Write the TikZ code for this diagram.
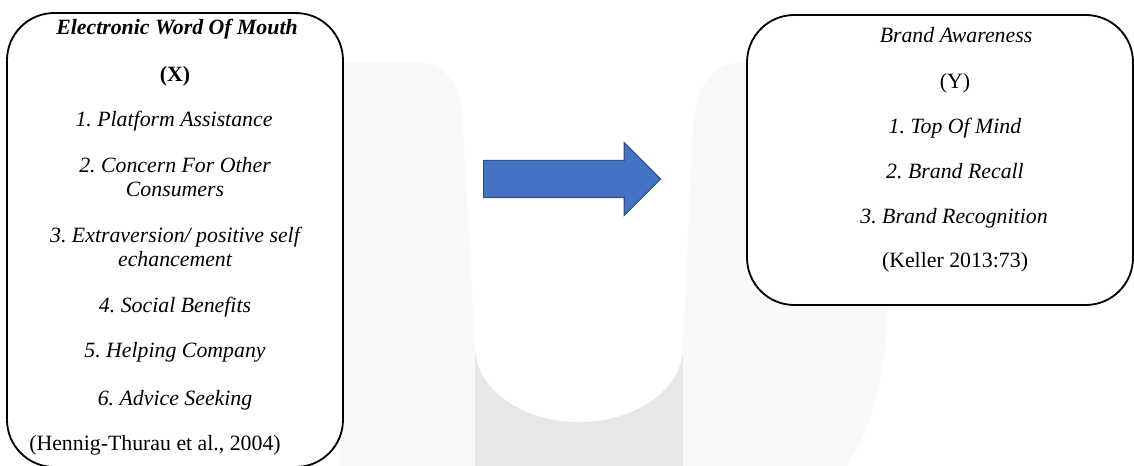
\documentclass[tikz,border=0pt]{standalone}
\usepackage{fontspec}
\setmainfont{Liberation Serif}
\usetikzlibrary{shapes.arrows}
\definecolor{wmlight}{HTML}{F9F9F9}
\definecolor{wmdark}{HTML}{E7E7EA}
\definecolor{arrowfill}{HTML}{4472C4}
\definecolor{arrowline}{HTML}{2F528F}
\newcommand\boxfont{\fontsize{12pt}{13.2pt}\selectfont\frenchspacing}

\begin{document}
\begin{tikzpicture}[
    x=0.55pt, y=-0.55pt,
    every node/.style={font=\boxfont, inner sep=0pt},
    varbox/.style={rectangle, draw=black, fill=white, line width=1pt,
        rounded corners=26pt},
    plain/.style={anchor=base, font=\boxfont},
    item/.style={anchor=base, font=\boxfont\itshape},
    bigarrow/.style={single arrow, draw=arrowline, fill=arrowfill,
        line width=0.6pt, inner xsep=0pt, inner ysep=9.9pt,
        minimum height=97.4pt, single arrow head extend=9.8pt}
]
\useasboundingbox (0,0) rectangle (1134,466);
% faint background logo
\fill[wmlight] (340,466) -- (340,63) -- (420,63)
    .. controls (452,63) and (462,95) .. (463,130) -- (475,347)
    -- (475,466) -- cycle;
\fill[wmlight] (683,466) -- (683,347) -- (693,130)
    .. controls (694,95) and (708,63) .. (740,63) -- (890,63)
    -- (888,300) .. controls (885,400) and (862,440) .. (847,466) -- cycle;
\fill[wmdark] (475,340) rectangle (683,466);
\fill[white] (475,330) -- (475,347)
    arc[start angle=180, end angle=0, x radius=104, y radius=75]
    -- (683,330) -- cycle;
% variable boxes
\node[varbox, minimum width=184.8pt, minimum height=249.7pt]
    (ewom) at (175,240) {};
\node[varbox, minimum width=212.3pt, minimum height=159.5pt]
    (aware) at (940,160) {};
% X
\node[plain, font=\boxfont\bfseries\itshape] (xtitle) at (177,35)
    {Electronic Word Of Mouth};
\node[plain, font=\boxfont\bfseries] (xsym) at (175,82) {(X)};
\node[item] (x1) at (174,127) {1. Platform Assistance};
\node[item] (x2) at (175,173) {2. Concern For Other};
\node[item] (x2b) at (175,197) {Consumers};
\node[item] (x3) at (175,243) {3. Extraversion/ positive self};
\node[item] (x3b) at (175,267) {echancement};
\node[item] (x4) at (175,313) {4. Social Benefits};
\node[item] (x5) at (175,358) {5. Helping Company};
\node[item] (x6) at (175,405) {6. Advice Seeking};
\node[plain] (xsrc) at (155,450) {(Hennig-Thurau et al., 2004)};
% Y
\node[item] (ytitle) at (956,43) {Brand Awareness};
\node[plain] (ysym) at (955,89) {(Y)};
\node[item] (y1) at (955,134) {1. Top Of Mind};
\node[item] (y2) at (955,179) {2. Brand Recall};
\node[item] (y3) at (954,224) {3. Brand Recognition};
\node[plain] (ysrc) at (955,268) {(Keller 2013:73)};
% arrow
\node[bigarrow, anchor=tail] (link) at (483,179) {};
\end{tikzpicture}
\end{document}
